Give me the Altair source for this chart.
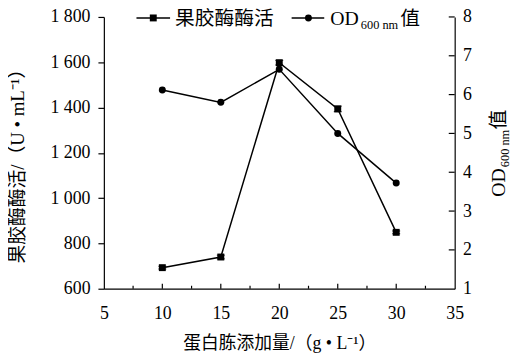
import altair as alt
import pandas as pd

# ---- data ----
peptone = [10, 15, 20, 25, 30]                 # g/L
pectinase = [693, 740, 1598, 1394, 849]        # U/mL
pectinase_err = [6, 8, 10, 12, 6]
od600 = [6.12, 5.80, 6.65, 5.00, 3.72]

x_major = [10, 15, 20, 25, 30]
x_minor = [7.5, 12.5, 17.5, 22.5, 27.5, 32.5]
x_labels = [5, 10, 15, 20, 25, 30, 35]
yl_labels = [600, 800, 1000, 1200, 1400, 1600, 1800]
yr_labels = [1, 2, 3, 4, 5, 6, 7, 8]
yr_ticks = [2, 3, 4, 5, 6, 7, 8]

legend_p = "果胶酶酶活"
legend_od = ["OD", "600 nm", "值"]
y_left_title = "果胶酶酶活/（U • mL⁻¹）"
x_title = "蛋白胨添加量/（g • L⁻¹）"

FONT = "Liberation Serif, Noto Sans CJK SC, serif"
W, H = 355, 275

df = pd.DataFrame({
    "x": peptone,
    "p": pectinase,
    "lo": [p - e for p, e in zip(pectinase, pectinase_err)],
    "hi": [p + e for p, e in zip(pectinase, pectinase_err)],
    "od": od600,
})

xs = alt.Scale(domain=[5, 35], nice=False, zero=False)
yls = alt.Scale(domain=[600, 1800], nice=False, zero=False)
yrs = alt.Scale(domain=[1, 8], nice=False, zero=False)

x_axis = alt.Axis(
    values=x_labels, ticks=False, labelPadding=25, labelBaseline="middle",
    labelOverlap=False, labelFlush=False,
    title=x_title, titleX=W / 2, titleY=55, titleBaseline="middle", titleAlign="center",
)
yl_axis = alt.Axis(
    values=yl_labels, labelExpr="replace(format(datum.value, ','), ',', ' ')",
    tickSize=6, labelPadding=8, labelOverlap=False, labelFlush=False,
    title=y_left_title, titleFontSize=19,
    titleAngle=270, titleX=-87, titleY=146, titleBaseline="middle", titleAlign="center",
)
yr_axis = alt.Axis(
    orient="right", values=yr_labels, ticks=False, labelPadding=8,
    labelOverlap=False, labelFlush=False, title=None,
)

base = alt.Chart(df)

# custom legend and right-axis title (text with subscript)
one = pd.DataFrame({"a": [0]})


def txt(s, x, y, size, angle=0):
    return alt.Chart(one).mark_text(
        text=s, font=FONT, fontSize=size, align="left", baseline="alphabetic",
        color="black", angle=angle).encode(x=alt.value(x), y=alt.value(y))


def leg_line(x1, x2, y):
    return alt.Chart(one).mark_rule(color="black", strokeWidth=1.5).encode(
        x=alt.value(x1), x2=alt.value(x2), y=alt.value(y))


def leg_pt(shape, x, y):
    return alt.Chart(one).mark_point(shape=shape, filled=True, size=49, color="black", opacity=1).encode(
        x=alt.value(x), y=alt.value(y))


# left (pectinase) layer
p_line = base.mark_line(color="black", strokeWidth=1.5).encode(
    x=alt.X("x:Q", scale=xs, axis=x_axis), y=alt.Y("p:Q", scale=yls, axis=yl_axis))
p_err = base.mark_rule(color="black", strokeWidth=1.2).encode(
    x=alt.X("x:Q", scale=xs), y=alt.Y("lo:Q", scale=yls), y2="hi:Q")
p_cap_lo = base.mark_tick(color="black", size=8, thickness=1.2, orient="horizontal").encode(
    x=alt.X("x:Q", scale=xs), y=alt.Y("lo:Q", scale=yls))
p_cap_hi = base.mark_tick(color="black", size=8, thickness=1.2, orient="horizontal").encode(
    x=alt.X("x:Q", scale=xs), y=alt.Y("hi:Q", scale=yls))
p_pts = base.mark_point(shape="square", filled=True, size=49, color="black", opacity=1).encode(
    x=alt.X("x:Q", scale=xs), y=alt.Y("p:Q", scale=yls))

xt_major = alt.Chart(pd.DataFrame({"x": x_major})).mark_rule(color="black", strokeWidth=1.2).encode(
    x=alt.X("x:Q", scale=xs), y=alt.value(H), y2=alt.value(H - 5))
xt_minor = alt.Chart(pd.DataFrame({"x": x_minor})).mark_rule(color="black", strokeWidth=1.2).encode(
    x=alt.X("x:Q", scale=xs), y=alt.value(H), y2=alt.value(H - 3))

LY = 1
TY = 8
left = alt.layer(
    p_line, p_err, p_cap_lo, p_cap_hi, p_pts, xt_major, xt_minor,
    leg_line(33, 67, LY), leg_pt("square", 50, LY), txt(legend_p, 72, TY, 20),
    leg_line(190, 223, LY), leg_pt("circle", 207, LY),
    txt(legend_od[0], 229, TY, 20), txt(legend_od[1], 260, TY + 4, 12.5), txt(legend_od[2], 300, TY, 20),
    txt(legend_od[0], 406, 182, 20, angle=270),
    txt(legend_od[1], 410, 152, 12.5, angle=270),
    txt(legend_od[2], 406, 114, 20, angle=270),
)

# right (OD) layer -- every y encoding carries the same explicit axis so they merge cleanly
od_line = base.mark_line(color="black", strokeWidth=1.5).encode(
    x=alt.X("x:Q", scale=xs), y=alt.Y("od:Q", scale=yrs, axis=yr_axis))
od_pts = base.mark_point(shape="circle", filled=True, size=50, color="black", opacity=1).encode(
    x=alt.X("x:Q", scale=xs), y=alt.Y("od:Q", scale=yrs, axis=yr_axis))
yr_t = alt.Chart(pd.DataFrame({"od": yr_ticks})).mark_rule(color="black", strokeWidth=1.2).encode(
    y=alt.Y("od:Q", scale=yrs, axis=yr_axis), x=alt.value(W), x2=alt.value(W - 6))

right = alt.layer(od_line, od_pts, yr_t)

chart = alt.layer(left, right).resolve_scale(y="independent").properties(
    width=W, height=H,
    autosize=alt.AutoSizeParams(type="none"),
    padding={"left": 97, "top": 7, "right": 58, "bottom": 64},
).configure_view(stroke=None).configure_axis(
    labelFont=FONT, labelFontSize=18, labelColor="black", labelFlush=False, labelOverlap=False,
    titleFont=FONT, titleFontSize=18, titleFontWeight="normal", titleColor="black",
    domainColor="black", domainWidth=1.2, tickColor="black", tickWidth=1.2, grid=False,
)

chart.save("out.html", embed_options={"renderer": "svg", "actions": False})
